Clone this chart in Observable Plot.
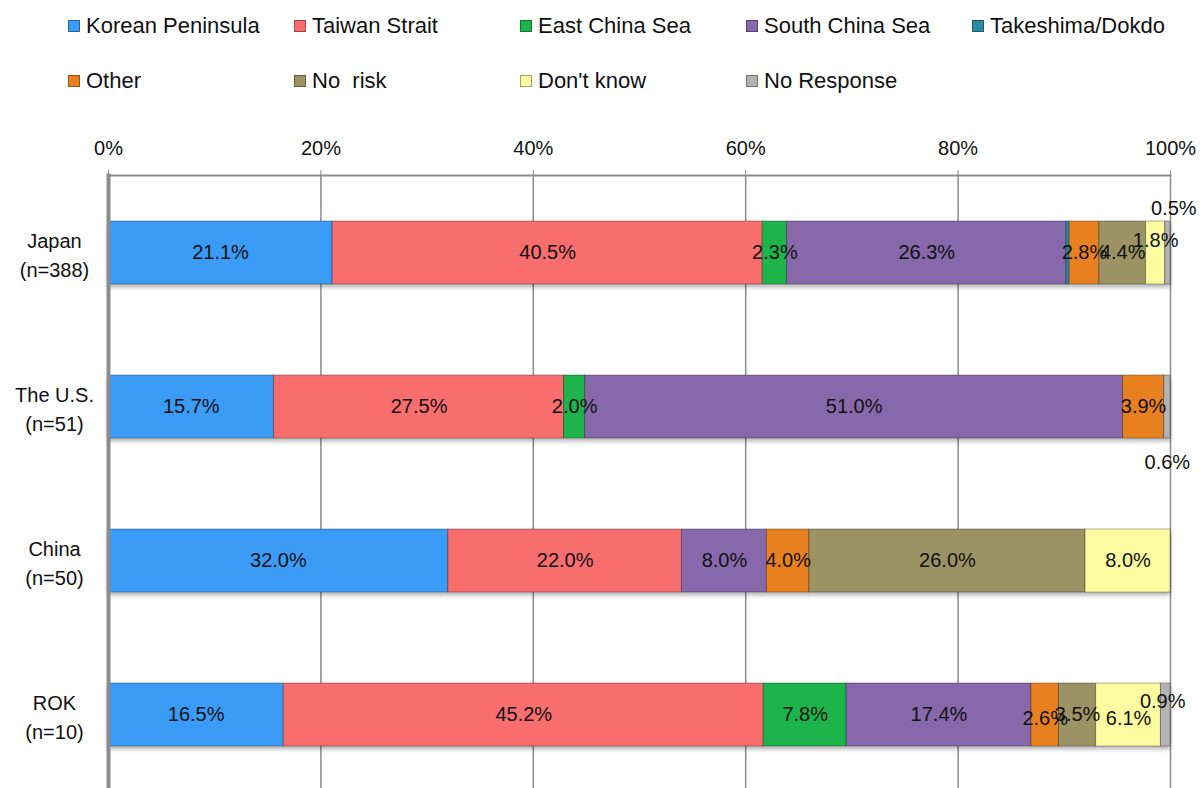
<!DOCTYPE html>
<html>
<head>
<meta charset="utf-8">
<script src="https://cdn.jsdelivr.net/npm/d3@7"></script>
<script src="https://cdn.jsdelivr.net/npm/@observablehq/plot@0.6"></script>
<style>
  html, body { margin: 0; padding: 0; background: #fff; overflow: hidden; }
  body { width: 1204px; height: 788px; font-family: "Liberation Sans", Arial, sans-serif; }
  #legend { position: relative; height: 110px; }
  .item { position: absolute; display: flex; align-items: center; font-size: 22px; color: #111; white-space: pre; }
  .sw { width: 12px; height: 12px; margin-right: 6px; box-sizing: border-box; border: 1px solid rgba(0,0,0,0.35); }
</style>
</head>
<body>
<div id="legend"></div>
<div id="chart"></div>
<script>
// ---- data ----
const countries = ["Japan", "The U.S.", "China", "ROK"];
const sampleSizes = ["n=388", "n=51", "n=50", "n=10"];
const seriesNames = ["Korean Peninsula", "Taiwan Strait", "East China Sea", "South China Sea",
  "Takeshima/Dokdo", "Other", "No  risk", "Don't know", "No Response"];
const japanValues = [21.1, 40.5, 2.3, 26.3, 0.3, 2.8, 4.4, 1.8, 0.5];
const usValues    = [15.7, 27.5, 2.0, 51.0, 0,   3.9, 0,   0,   0.6];
const chinaValues = [32.0, 22.0, 0,   8.0,  0,   4.0, 26.0, 8.0, 0];
const rokValues   = [16.5, 45.2, 7.8, 17.4, 0,   2.6, 3.5, 6.1, 0.9];
const xTicks = [0, 0.2, 0.4, 0.6, 0.8, 1];
const seriesColors = ["#3a9cf6", "#f86e6e", "#1db44c", "#8768ab", "#2b8aa6",
  "#e9801f", "#9b9363", "#fdfb9f", "#b3b3b3"];
const unlabeledSeries = ["Takeshima/Dokdo"];

const valueRows = [japanValues, usValues, chinaValues, rokValues];
const data = countries.flatMap((c, i) =>
  seriesNames.map((s, j) => ({country: c, series: s, value: valueRows[i][j]}))
).filter(d => d.value > 0);

// ---- legend ----
const legend = document.getElementById("legend");
seriesNames.forEach((s, i) => {
  const col = i % 5, row = Math.floor(i / 5);
  const el = document.createElement("div");
  el.className = "item";
  el.style.left = (68 + col * 226) + "px";
  el.style.top = (13 + row * 55) + "px";
  el.innerHTML = `<span class="sw" style="background:${seriesColors[i]}"></span><span></span>`;
  el.lastChild.textContent = s;
  legend.appendChild(el);
});

// ---- label offsets (layout tweaks) ----
const labelShift = {
  "Japan|Don't know": [0, -12],
  "Japan|No Response": [6, -44],
  "The U.S.|No Response": [0, 56],
  "ROK|Other": [0, 4],
  "ROK|Don't know": [0, 4],
  "ROK|No risk": [0, 17],
  "ROK|No Response": [-3, -13]
};
const keyOf = d => d.country + "|" + d.series;
const uniq = [[0, 0]];
Object.values(labelShift).forEach(g => { if (!uniq.some(u => u[0] === g[0] && u[1] === g[1])) uniq.push(g); });

const stackOpts = {x: "value", y: "country", z: "series", order: seriesNames, offset: "normalize"};

const labelMarks = uniq.map(([dx, dy]) => Plot.text(data, Plot.stackX({
  ...stackOpts,
  text: d => {
    if (unlabeledSeries.includes(d.series)) return "";
    const s = labelShift[keyOf(d)] || [0, 0];
    return (s[0] === dx && s[1] === dy) ? d.value.toFixed(1) + "%" : "";
  },
  dx, dy, fontSize: 20, fill: "#111"
})));

const chart = Plot.plot({
  width: 1204,
  height: 683,
  marginTop: 65,
  marginLeft: 108,
  marginRight: 34,
  marginBottom: 0,
  style: {fontFamily: "'Liberation Sans', Arial, sans-serif", fontSize: "20px", color: "#111", background: "#fff", overflow: "visible"},
  x: {domain: [0, 1], axis: null},
  y: {domain: countries, paddingInner: 0.59, paddingOuter: 0.295, axis: null},
  color: {domain: seriesNames, range: seriesColors},
  marks: [
    Plot.ruleX(xTicks, {x: d => d, stroke: "#8c8c8c", strokeWidth: 1.5}),
    Plot.frame({anchor: "top", stroke: "#8c8c8c", strokeWidth: 2}),
    Plot.axisX({anchor: "top", ticks: xTicks, tickFormat: d3.format(".0%"), label: null, tickSize: 6, tickPadding: 15, stroke: "#8c8c8c", fontSize: 20, color: "#111"}),
    Plot.barX(data, Plot.stackX({...stackOpts, fill: "series", stroke: "rgba(0,0,0,0.3)", strokeWidth: 1})),
    Plot.frame({anchor: "left", stroke: "#8c8c8c", strokeWidth: 4}),
    Plot.text(countries, {
      y: d => d, frameAnchor: "left", textAnchor: "middle", dx: -54,
      text: (d, i) => d + "\n(" + sampleSizes[i] + ")", lineHeight: 1.45, fontSize: 20, fill: "#111"
    }),
    ...labelMarks
  ]
});
const bars = chart.querySelector('g[aria-label="bar"]');
if (bars) bars.style.filter = "drop-shadow(0px 3px 2px rgba(0,0,0,0.3))";
document.getElementById("chart").appendChild(chart);
</script>
</body>
</html>
